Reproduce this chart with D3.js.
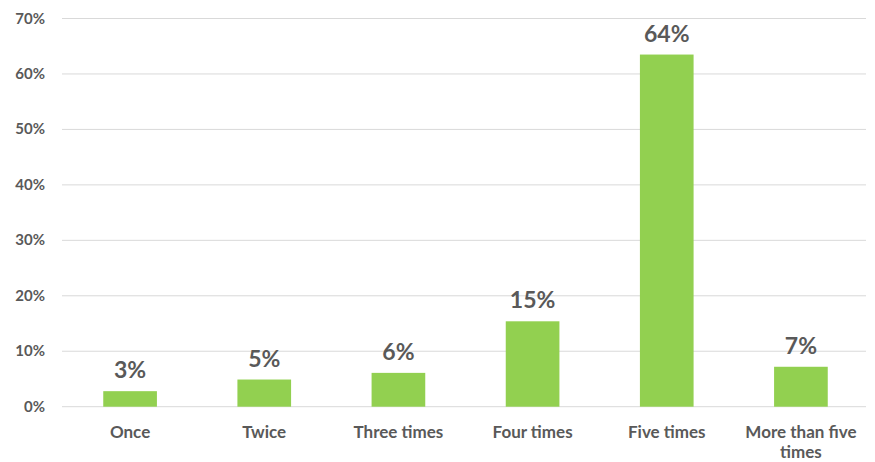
<!DOCTYPE html>
<html>
<head>
<meta charset="utf-8">
<script src="https://cdn.jsdelivr.net/npm/d3@7"></script>
<style>
  body { margin: 0; background: #fff; }
  text { font-family: Lato, "Open Sans", sans-serif; font-weight: bold; fill: #595959; }
</style>
</head>
<body>
<svg id="chart" width="875" height="462"></svg>
<script>
// data
const categories = ["Once", "Twice", "Three times", "Four times", "Five times", "More than five times"];
const shares = [2.8, 4.9, 6.1, 15.4, 63.5, 7.2];
const shareLabels = ["3%", "5%", "6%", "15%", "64%", "7%"];
const yTicks = [0, 10, 20, 30, 40, 50, 60, 70];

const svg = d3.select("#chart");
const plotLeft = 63, plotRight = 868, plotTop = 18.5, plotBottom = 406.7;

const x = d3.scaleBand()
    .domain(categories)
    .range([plotLeft, plotRight])
    .paddingInner(0.6)
    .paddingOuter(0.3);

const y = d3.scaleLinear()
    .domain([0, 70])
    .range([plotBottom, plotTop]);

// gridlines
svg.append("g")
    .selectAll("line")
    .data(yTicks)
    .join("line")
    .attr("x1", plotLeft - 1)
    .attr("x2", plotRight - 2)
    .attr("y1", d => y(d))
    .attr("y2", d => y(d))
    .attr("stroke", "#d9d9d9")
    .attr("stroke-width", 1);

// y tick labels
svg.append("g")
    .selectAll("text")
    .data(yTicks)
    .join("text")
    .attr("x", 45)
    .attr("y", d => y(d) + 5)
    .attr("text-anchor", "end")
    .style("font-size", "15px")
    .text(d => d + "%");

// bars
const data = categories.map((c, i) => ({ cat: c, v: shares[i], label: shareLabels[i] }));

svg.append("g")
    .selectAll("rect")
    .data(data)
    .join("rect")
    .attr("x", d => x(d.cat))
    .attr("width", x.bandwidth())
    .attr("y", d => y(d.v))
    .attr("height", d => y(0) - y(d.v))
    .attr("fill", "#92d050");

// value labels
svg.append("g")
    .selectAll("text")
    .data(data)
    .join("text")
    .attr("x", d => x(d.cat) + x.bandwidth() / 2)
    .attr("y", d => y(d.v) - 13)
    .attr("text-anchor", "middle")
    .style("font-size", "23px")
    .text(d => d.label);

// category labels, wrap the long one
const catLines = { "More than five times": ["More than five", "times"] };
const cats = svg.append("g")
    .selectAll("text")
    .data(categories)
    .join("text")
    .attr("x", d => x(d) + x.bandwidth() / 2)
    .attr("y", 438)
    .attr("text-anchor", "middle")
    .style("font-size", "17px");

cats.each(function(d) {
    const lines = catLines[d] || [d];
    d3.select(this).selectAll("tspan")
        .data(lines)
        .join("tspan")
        .attr("x", x(d) + x.bandwidth() / 2)
        .attr("dy", (l, i) => i === 0 ? 0 : 20)
        .text(l => l);
});
</script>
</body>
</html>
